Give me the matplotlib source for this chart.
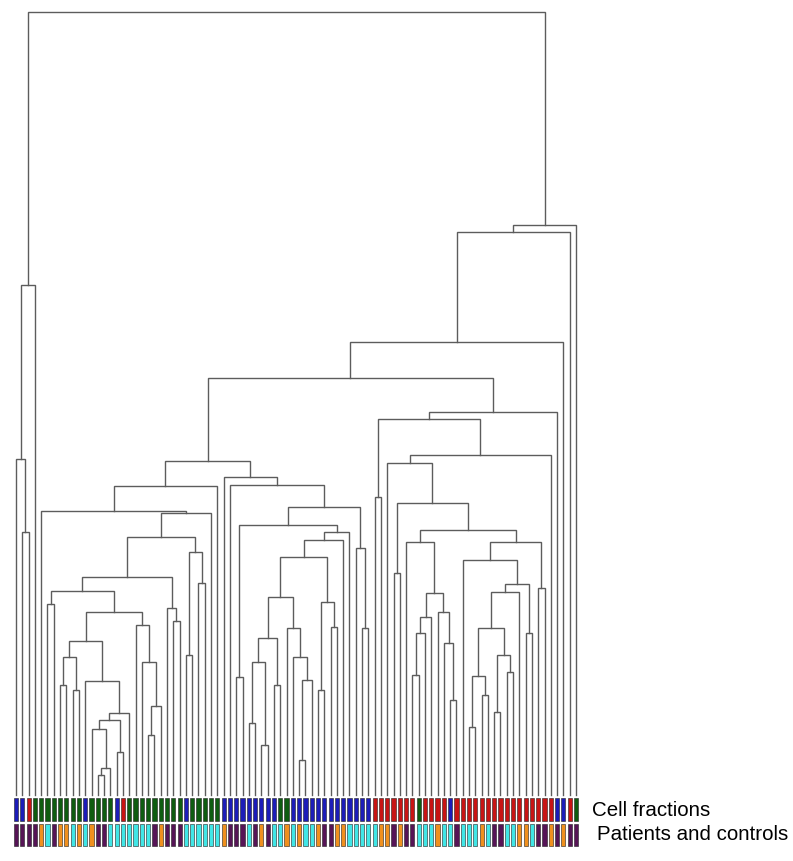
import matplotlib
matplotlib.use("Agg")
import matplotlib.pyplot as plt

# ---------------------------------------------------------------------------
# dendrogram: leaves numbered left->right 0..89, a merge is (left, right, height)
# heights = distance above the leaf baseline
# ---------------------------------------------------------------------------
far_left = ((0, (1, 2, 263), 336), 3, 510)

# mixed cluster (leaves 4-31)
g_a = (12, ((13, 14, 20), 15, 27), 66)
g_b = (11, ((g_a, (16, 17, 43), 75), 18, 82), 114)
g_c = (((7, 8, 110), (9, 10, 105), 138), g_b, 154)
g_d = (19, (20, ((21, 22, 60), 23, 89), 133), 170)
g_e = ((5, 6, 191), (g_c, g_d, 183), 204)
g_f = ((g_e, (24, (25, 26, 174), 187), 218),
       ((27, 28, 140), (29, 30, 212), 243), 258)
green = (4, (g_f, 31, 282), 284)

# blue cluster (leaves 35-56)
b_a = (((37, 38, 72), (39, 40, 50), 133), (41, 42, 110), 157)
b_b = (43, (44, ((45, 46, 35), 47, 115), 138), 167)
b_c = ((b_a, b_b, 198), ((48, 49, 105), (50, 51, 168), 193), 238)
b_d = ((35, 36, 118), ((b_c, 52, 255), 53, 263), 270)
blue = (b_d, (54, (55, 56, 167), 247), 288)

# red cluster (leaves 57-85)
r_a = (((63, 64, 120), 65, 162), 66, 178)
r_b = (67, (68, (69, 70, 95), 152), 183)
r_c = (62, (r_a, r_b, 202), 253)
r_d = (((72, 73, 68), (74, 75, 100), 119),
       ((76, 77, 83), (78, 79, 123), 140), 167)
r_e = ((71, ((r_d, 80, 203), (81, 82, 162), 211), 235), (83, 84, 207), 253)
red = ((57, 58, 298),
       ((59, ((60, 61, 222), (r_c, r_e, 265), 292), 332), 85, 340), 376)

# upper spine
middle = (((green, 32, 309), (33, (34, blue, 310), 318), 334), (red, 86, 383), 417)
right = (((middle, 87, 453), 88, 563), 89, 570)
tree = (far_left, right, 783)

# colour rows under the leaves
cell_fractions = list(
    "BBRGGGGGGGGBGGGGBRGGGGGGGGGBGGGGG"
    "BBBBBBBBBGGBBBBBBBBBBBBBRRRRRRRGRRRRB"
    "RRRRRRRRRRRRRRRRBBRG")
patients = list(
    "PPPPOCPOOCOCOPPCCCCCCCPOPPPCCCCCC"
    "OPPPCPOPCCOCOCCOPPOOCCCCCOOPOPPCCCOCCP"
    "CCCOCPPCCOOCPPOPOPP")

cf_colors = {"B": "#1c1cb8", "G": "#0e5c10", "R": "#c81414"}
pc_colors = {"P": "#561456", "O": "#f0901e", "C": "#40e6e6"}

LINE = "#5c5c5c"
W, H = 793, 861
STEP = 6.292            # px between leaves
X0 = 16                 # px of first leaf
N = len(cell_fractions)

fig = plt.figure(figsize=(W / 100, H / 100), dpi=100)
fig.patch.set_facecolor("white")

ax = fig.add_axes([(X0 - STEP / 2) / W, (H - 795) / H, N * STEP / W, 783 / H])
ax.set_xlim(-0.5, N - 0.5)
ax.set_ylim(0, 783)
ax.axis("off")

order = []


def draw(node):
    if isinstance(node, int):
        order.append(node)
        return node, 0.0
    left, right_, h = node
    xl, hl = draw(left)
    xr, hr = draw(right_)
    ax.plot([xl, xl, xr, xr], [hl, h, h, hr], color=LINE, lw=1.0,
            solid_joinstyle="miter", clip_on=False)
    return (xl + xr) / 2, h


draw(tree)
assert order == list(range(N)), order

# colour bars
axc = fig.add_axes([(X0 - STEP / 2) / W, (H - 847) / H, N * STEP / W, 50 / H])
axc.set_xlim(-0.5, N - 0.5)
axc.set_ylim(50, 0)
axc.axis("off")
xs = range(N)
axc.bar(xs, 23, bottom=1, width=0.66,
        color=[cf_colors[c] for c in cell_fractions[:N]],
        edgecolor="#202020", linewidth=0.4)
axc.bar(xs, 22, bottom=27, width=0.66,
        color=[pc_colors[c] for c in patients[:N]],
        edgecolor="#202020", linewidth=0.4)

fig.text(592 / W, 1 - 810 / H, "Cell fractions", fontsize=14.8,
         family="Liberation Sans", va="center", ha="left")
fig.text(597 / W, 1 - 834 / H, "Patients and controls", fontsize=14.8,
         family="Liberation Sans", va="center", ha="left")

fig.savefig("out.png", dpi=100, facecolor="white")
